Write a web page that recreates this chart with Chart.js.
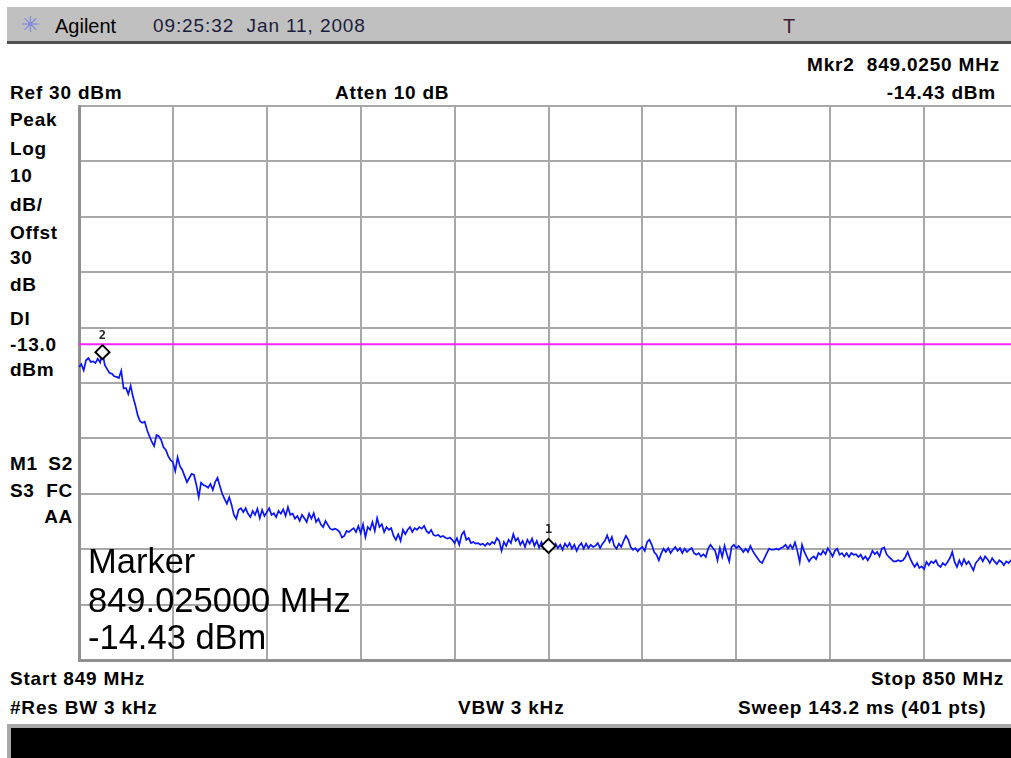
<!DOCTYPE html>
<html>
<head>
<meta charset="utf-8">
<script src="https://cdn.jsdelivr.net/npm/chart.js@4.4.1/dist/chart.umd.min.js"></script>
<style>
    html, body { margin: 0; padding: 0; background: #fff; width: 1011px; height: 758px; overflow: hidden; }
    body { position: relative; font-family: "Liberation Sans", Arial, sans-serif; }
    .t { position: absolute; white-space: nowrap; line-height: 1; color: #000; }
    .nar { font-family: "Liberation Sans", Arial, sans-serif; font-weight: bold; font-size: 19px; letter-spacing: 0.8px; }
    .lab { font-family: "Liberation Sans", Arial, sans-serif; font-weight: bold; font-size: 19px; letter-spacing: 0.7px; left: 10px; }
    .rlab { left: auto; right: 938px; }
    #topbar { position: absolute; left: 7px; top: 7px; width: 1011px; height: 34px; background: #c0c0c0; border-bottom: 3px solid #505050; }
    #bottombar { position: absolute; left: 7px; top: 724px; width: 1011px; height: 40px; background: #000; border-top: 4px solid #a8a8a8; border-left: 4px solid #a8a8a8; }
    #plotBox { position: absolute; left: 76px; top: 104px; width: 944px; height: 558px; }
    .big { font-family: "Liberation Sans", Arial, sans-serif; font-size: 34.5px; left: 88px; }
</style>
</head>
<body>

<div id="topbar"></div>
<div class="t" style="left:21px; top:14px; font-size:22px; color:#7a86e0;">✳</div>
<div class="t" style="left:55px; top:16px; font-size:20px;">Agilent</div>
<div class="t" style="left:153px; top:16px; font-size:19px; letter-spacing:0.9px; color:#1c1c3c;">09:25:32&nbsp; Jan 11, 2008</div>
<div class="t" style="left:783px; top:16px; font-size:20px; color:#402030;">T</div>

<div class="t nar" style="right:11px; top:55px;">Mkr2&nbsp; 849.0250 MHz</div>
<div class="t nar" style="left:10px; top:83px;">Ref 30 dBm</div>
<div class="t nar" style="left:335px; top:83px;">Atten 10 dB</div>
<div class="t nar" style="right:15px; top:83px;">-14.43 dBm</div>

<div class="t lab" style="top:110px;">Peak</div>
<div class="t lab" style="top:139px;">Log</div>
<div class="t lab" style="top:166px;">10</div>
<div class="t lab" style="top:195px;">dB/</div>
<div class="t lab" style="top:223px;">Offst</div>
<div class="t lab" style="top:248px;">30</div>
<div class="t lab" style="top:275px;">dB</div>
<div class="t lab" style="top:309px;">Dl</div>
<div class="t lab" style="top:335px;">-13.0</div>
<div class="t lab" style="top:360px;">dBm</div>
<div class="t lab" style="top:454px;">M1</div>
<div class="t lab rlab" style="top:454px;">S2</div>
<div class="t lab" style="top:481px;">S3</div>
<div class="t lab rlab" style="top:481px;">FC</div>
<div class="t lab rlab" style="top:507px;">AA</div>

<div id="plotBox"><canvas id="spec"></canvas></div>

<div class="t big" style="top:544px;">Marker</div>
<div class="t big" style="top:583px;">849.025000 MHz</div>
<div class="t big" style="top:620px;">-14.43 dBm</div>

<div class="t nar" style="left:10px; top:669px;">Start 849 MHz</div>
<div class="t nar" style="right:7px; top:669px;">Stop 850 MHz</div>
<div class="t nar" style="left:10px; top:698px;">#Res BW 3 kHz</div>
<div class="t nar" style="left:458px; top:698px;">VBW 3 kHz</div>
<div class="t nar" style="left:738px; top:698px;">Sweep 143.2 ms (401 pts)</div>

<div id="bottombar"></div>

<script>
// sweep settings
const startMHz = 849;
const stopMHz = 850;
const sweepPoints = 401;

// grid: 10 divisions each way
const freqTicks = [849.0, 849.1, 849.2, 849.3, 849.4, 849.5, 849.6, 849.7, 849.8, 849.9, 850.0];
const levelTicks = [30, 20, 10, 0, -10, -20, -30, -40, -50, -60, -70];

// display line
const displayLineDbm = -13.0;

// markers (1 and 2)
const markerNames = ["1", "2"];
const markerFreqs = [849.5, 849.025];
const markerLevels = [-49.4, -14.43];

// trace, dBm (401 pts)
const traceDbm = [
    -17.1, -16.6, -17.7, -15.9, -15.5, -16.2, -16.1, -16.4, -15.6, -16.3, -14.4, -16.8, -17.5, -18.2, -18.3, -18.8, -18.9, -19.1, -17.8, -21.0,
    -20.9, -22.0, -20.5, -22.5, -24.0, -25.8, -26.9, -27.2, -27.0, -28.5, -29.6, -30.6, -31.4, -29.4, -29.6, -30.3, -31.6, -32.1, -33.2, -33.9,
    -34.3, -35.9, -33.4, -35.0, -35.7, -36.8, -37.9, -37.1, -36.4, -36.6, -38.4, -40.6, -38.0, -38.4, -38.6, -38.9, -38.2, -39.3, -37.9, -37.1,
    -38.6, -40.0, -40.9, -41.8, -40.6, -42.0, -43.8, -44.5, -42.9, -42.6, -43.3, -42.6, -43.6, -44.2, -43.1, -43.8, -42.7, -44.4, -42.9, -44.0,
    -43.3, -42.6, -43.8, -43.5, -44.2, -43.1, -43.6, -42.8, -44.0, -42.4, -43.8, -43.6, -44.5, -44.0, -44.9, -43.8, -44.4, -45.1, -43.6, -44.5,
    -43.5, -45.1, -44.5, -45.5, -46.0, -44.9, -45.6, -46.3, -46.5, -46.3, -46.5, -46.9, -47.9, -47.6, -46.7, -46.9, -46.5, -46.2, -46.9, -45.8,
    -47.1, -45.5, -47.8, -46.0, -46.5, -45.1, -46.7, -44.4, -46.0, -45.5, -46.9, -46.0, -46.5, -46.2, -47.6, -48.3, -47.3, -48.5, -46.5, -47.3,
    -46.5, -46.0, -46.9, -46.2, -46.5, -46.0, -46.3, -45.8, -46.7, -47.1, -46.5, -47.4, -47.6, -47.4, -47.8, -47.6, -47.9, -48.1, -47.9, -48.3,
    -48.9, -48.0, -49.2, -47.4, -46.8, -48.3, -48.0, -48.9, -48.7, -49.0, -48.9, -49.2, -49.0, -49.4, -48.9, -49.2, -48.7, -49.0, -48.0, -48.5,
    -50.3, -48.7, -49.4, -48.3, -48.9, -47.3, -48.5, -48.0, -49.2, -48.5, -49.6, -48.3, -49.0, -48.1, -49.4, -48.5, -49.7, -48.7, -49.9, -49.2,
    -49.4, -48.9, -49.6, -49.0, -49.8, -49.2, -50.1, -49.0, -49.6, -48.9, -49.9, -49.2, -50.3, -49.4, -48.9, -49.9, -49.0, -49.8, -49.2, -49.6,
    -49.4, -48.9, -49.8, -49.0, -48.5, -47.5, -48.7, -47.8, -49.4, -49.9, -49.0, -49.6, -48.5, -47.6, -48.3, -49.6, -50.1, -49.8, -50.4, -49.9,
    -49.6, -50.3, -48.7, -48.3, -49.2, -50.5, -51.0, -52.0, -50.8, -49.9, -50.5, -49.8, -50.7, -50.1, -49.6, -50.3, -49.8, -50.7, -49.9, -50.5,
    -50.1, -49.8, -50.7, -51.0, -50.7, -51.3, -50.9, -51.4, -49.9, -49.2, -49.8, -50.3, -52.0, -49.8, -51.4, -49.4, -50.9, -52.2, -49.6, -49.2,
    -49.8, -49.4, -49.9, -50.5, -49.9, -50.5, -49.4, -50.3, -51.0, -51.6, -52.2, -52.5, -51.6, -50.7, -49.9, -50.1, -50.1, -49.9, -50.1, -49.8,
    -49.6, -49.2, -49.9, -49.2, -49.9, -48.8, -50.3, -52.3, -49.2, -50.5, -51.4, -52.2, -51.6, -51.3, -51.8, -50.7, -51.0, -50.3, -50.9, -49.8,
    -50.5, -51.3, -50.3, -49.9, -51.0, -50.7, -51.3, -50.7, -51.4, -50.7, -51.0, -50.9, -51.4, -51.0, -51.8, -51.3, -52.0, -51.3, -50.3, -50.9,
    -50.5, -51.3, -49.9, -49.7, -50.9, -51.4, -51.8, -52.2, -52.2, -52.0, -52.2, -52.0, -51.4, -50.5, -51.6, -52.5, -53.2, -52.5, -53.4, -53.1,
    -53.6, -52.3, -52.9, -52.2, -52.5, -52.0, -52.9, -53.2, -52.5, -52.9, -52.3, -51.6, -50.5, -52.3, -53.2, -52.0, -52.9, -51.8, -52.7, -52.2,
    -53.0, -53.8, -52.5, -52.0, -51.4, -52.2, -51.3, -51.8, -52.5, -51.6, -52.2, -52.7, -52.0, -52.3, -52.9, -52.2, -52.5, -52.0, -52.3, -52.2, -52.5
];

// sweep frequency for each trace point
let stepMHz = (stopMHz - startMHz) / (sweepPoints - 1);
let tracePts = traceDbm.map(function (v, i) {
    return { x: startMHz + i * stepMHz, y: v };
});

let markerPts = markerFreqs.map(function (f, i) {
    return { x: f, y: markerLevels[i] };
});

// little number above each marker diamond
const markerLabels = {
    id: "markerLabels",
    afterDatasetsDraw: function (chart) {
        let ctx = chart.ctx;
        let meta = chart.getDatasetMeta(2);
        ctx.save();
        ctx.font = "bold 12px 'DejaVu Sans Mono', monospace";
        ctx.fillStyle = "#222";
        ctx.textAlign = "center";
        ctx.textBaseline = "bottom";
        meta.data.forEach(function (pt, i) {
            ctx.fillText(markerNames[i], pt.x, pt.y - 10);
        });
        ctx.restore();
    }
};

let gridColor = "#a8a8a8";

new Chart(document.getElementById("spec"), {
    type: "line",
    data: {
        datasets: [
            {
                label: "Trace",
                data: tracePts,
                borderColor: "#0a14ff",
                borderWidth: 1.7,
                pointRadius: 0,
                tension: 0,
                order: 2
            },
            {
                label: "Display line",
                data: [{ x: startMHz, y: displayLineDbm }, { x: stopMHz, y: displayLineDbm }],
                borderColor: "#ff20ff",
                borderWidth: 2,
                pointRadius: 0,
                order: 3
            },
            {
                label: "Markers",
                data: markerPts,
                showLine: false,
                pointStyle: "rectRot",
                pointRadius: 7,
                pointBorderWidth: 2,
                pointBorderColor: "#000",
                pointBackgroundColor: "#fff",
                order: 1
            }
        ]
    },
    options: {
        responsive: true,
        maintainAspectRatio: false,
        animation: false,
        layout: { autoPadding: false, padding: { left: 3, top: 2, right: 2, bottom: 2 } },
        plugins: {
            legend: { display: false },
            tooltip: { enabled: false }
        },
        scales: {
            x: {
                type: "linear",
                min: startMHz,
                max: stopMHz,
                afterBuildTicks: function (scale) {
                    scale.ticks = freqTicks.map(function (v) { return { value: v }; });
                },
                afterFit: function (scale) { scale.height = 0; },
                ticks: { display: false },
                grid: { color: gridColor, lineWidth: 2, drawTicks: false },
                border: { color: "#909090", width: 3 }
            },
            y: {
                min: -70,
                max: 30,
                afterBuildTicks: function (scale) {
                    scale.ticks = levelTicks.map(function (v) { return { value: v }; });
                },
                afterFit: function (scale) { scale.width = 0; },
                ticks: { display: false },
                grid: { color: gridColor, lineWidth: 2, drawTicks: false },
                border: { color: "#909090", width: 3 }
            }
        }
    },
    plugins: [markerLabels]
});
</script>
</body>
</html>
